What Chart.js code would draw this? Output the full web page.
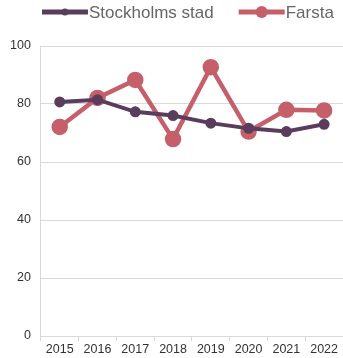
<!DOCTYPE html>
<html>
<head>
<meta charset="utf-8">
<script src="https://cdn.jsdelivr.net/npm/chart.js@4/dist/chart.umd.min.js"></script>
<style>
  html, body { margin: 0; padding: 0; background: #fff; }
  #wrap { width: 343px; height: 358px; }
</style>
</head>
<body>
<div id="wrap"><canvas id="chart_line"></canvas></div>
<script>
'use strict';

const years = ['2015', '2016', '2017', '2018', '2019', '2020', '2021', '2022'];
const stockholm = [80.7, 81.5, 77.3, 76.0, 73.4, 71.6, 70.5, 73.0];
const farsta = [72.1, 82.1, 88.3, 67.9, 92.7, 70.5, 78.0, 77.8];
const yTicks = [0, 20, 40, 60, 80, 100];

const COLORS = {
    stockholm: '#5a3d5c',
    farsta: '#c5606b',
    grid: '#d9d9d9',
    text: '#333333',
    legend: '#666666'
};

// legend: thick line with a dot in the middle, then the label
const lineLegend = {
    id: 'lineLegend',
    afterDraw(chart) {
        let ctx = chart.ctx,
            items = chart.data.datasets,
            lineW = 46,
            gap = 1,
            spacing = 25,
            font = '17px "Liberation Sans", Arial, sans-serif';
        ctx.save();
        ctx.font = font;
        let widths = items.map(d => lineW + gap + ctx.measureText(d.label).width),
            total = widths.reduce((a, b) => a + b, 0) + spacing * (items.length - 1),
            x = (chart.chartArea.left + chart.chartArea.right) / 2 - total / 2 - 4,
            y = 12;
        items.forEach((d, i) => {
            ctx.strokeStyle = d.borderColor;
            ctx.fillStyle = d.borderColor;
            ctx.lineWidth = 5;
            ctx.beginPath();
            ctx.moveTo(x, y);
            ctx.lineTo(x + lineW, y);
            ctx.stroke();
            ctx.beginPath();
            ctx.arc(x + lineW / 2, y, d.pointRadius, 0, Math.PI * 2);
            ctx.fill();
            ctx.fillStyle = COLORS.legend;
            ctx.textBaseline = 'middle';
            ctx.textAlign = 'left';
            ctx.fillText(d.label, x + lineW + gap, y + 1);
            x += widths[i] + spacing;
        });
        ctx.restore();
    }
};

let config = {
    type: 'line',
    data: {
        labels: years,
        datasets: [{
            label: 'Stockholms stad',
            data: stockholm,
            borderColor: COLORS.stockholm,
            backgroundColor: COLORS.stockholm,
            borderWidth: 4,
            pointRadius: 3.5,
            pointHoverRadius: 3.5,
            lineTension: 0,
            fill: false
        }, {
            label: 'Farsta',
            data: farsta,
            borderColor: COLORS.farsta,
            backgroundColor: COLORS.farsta,
            borderWidth: 4.5,
            pointRadius: 6,
            pointHoverRadius: 6,
            lineTension: 0,
            fill: false
        }]
    },
    options: {
        responsive: true,
        maintainAspectRatio: false,
        animation: false,
        layout: {autoPadding: false, padding: {top: 46, right: 0, left: 0, bottom: 0}},
        plugins: {
            legend: {display: false},
            tooltip: {enabled: false}
        },
        scales: {
            x: {
                offset: true,
                grid: {
                    offset: true,
                    drawOnChartArea: false,
                    drawTicks: true,
                    tickLength: 5,
                    color: COLORS.grid
                },
                border: {color: COLORS.grid},
                ticks: {
                    color: COLORS.text,
                    font: {family: '"Liberation Sans", Arial, sans-serif', size: 12.5},
                    padding: 1,
                    maxRotation: 0
                }
            },
            y: {
                min: 0,
                max: 100,
                afterBuildTicks: axis => { axis.ticks = yTicks.map(v => ({value: v})); },
                grid: {color: COLORS.grid, drawTicks: false},
                border: {color: COLORS.grid},
                ticks: {
                    color: COLORS.text,
                    font: {family: '"Liberation Sans", Arial, sans-serif', size: 12.5},
                    padding: 10
                }
            }
        }
    },
    plugins: [lineLegend]
};

window.ChartLine = new Chart(document.getElementById('chart_line').getContext('2d'), config);
</script>
</body>
</html>
